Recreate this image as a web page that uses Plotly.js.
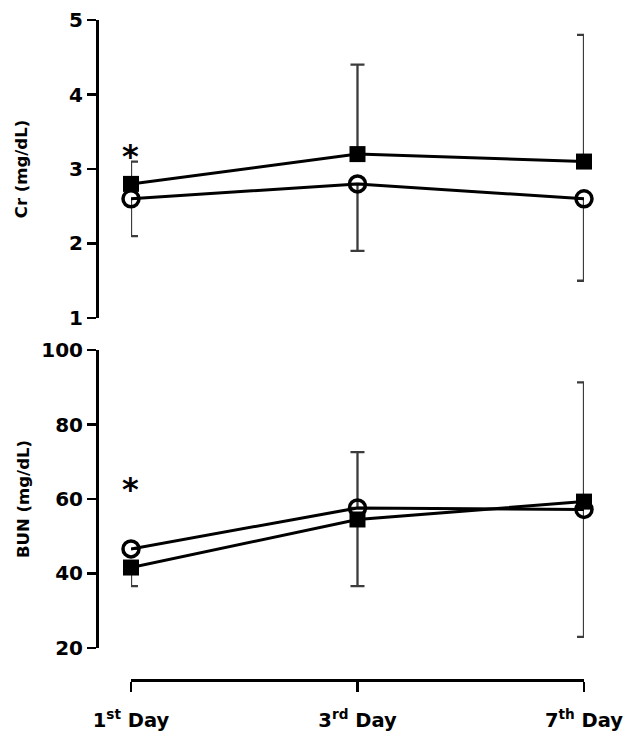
<!DOCTYPE html>
<html>
<head>
<meta charset="utf-8">
<script src="https://cdn.plot.ly/plotly-3.0.1.min.js"></script>
<style>html,body{margin:0;padding:0;background:#fff;}#chart{width:642px;height:755px;}</style>
</head>
<body>
<div id="chart"></div>
<script>
// Categories
const days = [1, 2, 3];
const dayLabels = ["1<sup>st</sup> Day", "3<sup>rd</sup> Day", "7<sup>th</sup> Day"];

// Cr (mg/dL)
const crSquare = [2.8, 3.2, 3.1];
const crSquareErrUp = [0.3, 1.2, 1.7];
const crSquareErrDown = [0, 0, 0];
const crCircle = [2.6, 2.8, 2.6];
const crCircleErrUp = [0, 0, 0];
const crCircleErrDown = [0.5, 0.9, 1.1];

// BUN (mg/dL)
const bunSquare = [41.6, 54.5, 59.3];
const bunSquareErrUp = [0, 0, 32.0];
const bunSquareErrDown = [5.0, 17.9, 0];
const bunCircle = [46.6, 57.6, 57.2];
const bunCircleErrUp = [0, 15.0, 0];
const bunCircleErrDown = [0, 0, 34.2];

// Significance markers (asterisk positions, data units)
const crStarY = 3.17;
const bunStarY = 62.8;

const FONT = "DejaVu Sans, Arial, sans-serif";
const errStyle = (up, down) => ({type: "data", symmetric: false, array: up, arrayminus: down,
  color: "#3c3c3c", thickness: 2.3, width: 7});
const lineStyle = {color: "#000", width: 3};
const squareMarker = {symbol: "square", size: 16, color: "#000", line: {width: 0}};
const circleMarker = {symbol: "circle-open", size: 16, color: "#000", line: {width: 3.5, color: "#000"}};

const traces = [
  {x: days, y: crCircle, yaxis: "y", type: "scatter", mode: "lines+markers", line: lineStyle,
   marker: circleMarker, error_y: errStyle(crCircleErrUp, crCircleErrDown), cliponaxis: false, showlegend: false},
  {x: days, y: crSquare, yaxis: "y", type: "scatter", mode: "lines+markers", line: lineStyle,
   marker: squareMarker, error_y: errStyle(crSquareErrUp, crSquareErrDown), cliponaxis: false, showlegend: false},
  {x: days, y: bunSquare, yaxis: "y2", type: "scatter", mode: "lines+markers", line: lineStyle,
   marker: squareMarker, error_y: errStyle(bunSquareErrUp, bunSquareErrDown), cliponaxis: false, showlegend: false},
  {x: days, y: bunCircle, yaxis: "y2", type: "scatter", mode: "lines+markers", line: lineStyle,
   marker: circleMarker, error_y: errStyle(bunCircleErrUp, bunCircleErrDown), cliponaxis: false, showlegend: false}
];

const yCommon = {
  anchor: "free", position: 0, showgrid: false, zeroline: false,
  showline: true, linecolor: "#000", linewidth: 3,
  ticks: "outside", ticklen: 9, tickwidth: 2.5, tickcolor: "#000",
  tickfont: {family: FONT, size: 20, color: "#000", weight: "bold"},
  title: {font: {family: FONT, size: 16.5, color: "#000", weight: "bold"}}
};

const layout = {
  width: 642, height: 755,
  margin: {l: 97, r: 58, t: 20, b: 75},
  paper_bgcolor: "#fff", plot_bgcolor: "#fff",
  showlegend: false,
  xaxis: {
    domain: [0.0698, 1], range: [1, 3], anchor: "free", position: 0,
    tickmode: "array", tickvals: days, ticktext: dayLabels,
    showgrid: false, zeroline: false, showline: true, linecolor: "#000", linewidth: 3,
    ticks: "outside", ticklen: 10, tickwidth: 2.5, tickcolor: "#000", ticklabelstandoff: 12,
    tickfont: {family: FONT, size: 19.5, color: "#000", weight: "bold"}
  },
  yaxis: Object.assign({}, yCommon, {domain: [0.5485, 1], range: [1, 5], dtick: 1, tick0: 0,
    title: Object.assign({}, yCommon.title, {text: "Cr (mg/dL)", standoff: 36})}),
  yaxis2: Object.assign({}, yCommon, {domain: [0.0485, 0.5], range: [20, 100], dtick: 20, tick0: 0,
    title: Object.assign({}, yCommon.title, {text: "BUN (mg/dL)", standoff: 6})}),
  annotations: [
    {x: days[0], y: crStarY, xref: "x", yref: "y", text: "*", showarrow: false,
     font: {family: FONT, size: 32, color: "#000", weight: "bold"}},
    {x: days[0], y: bunStarY, xref: "x", yref: "y2", text: "*", showarrow: false,
     font: {family: FONT, size: 32, color: "#000", weight: "bold"}}
  ]
};

Plotly.newPlot("chart", traces, layout, {displayModeBar: false, staticPlot: true});
</script>
</body>
</html>
